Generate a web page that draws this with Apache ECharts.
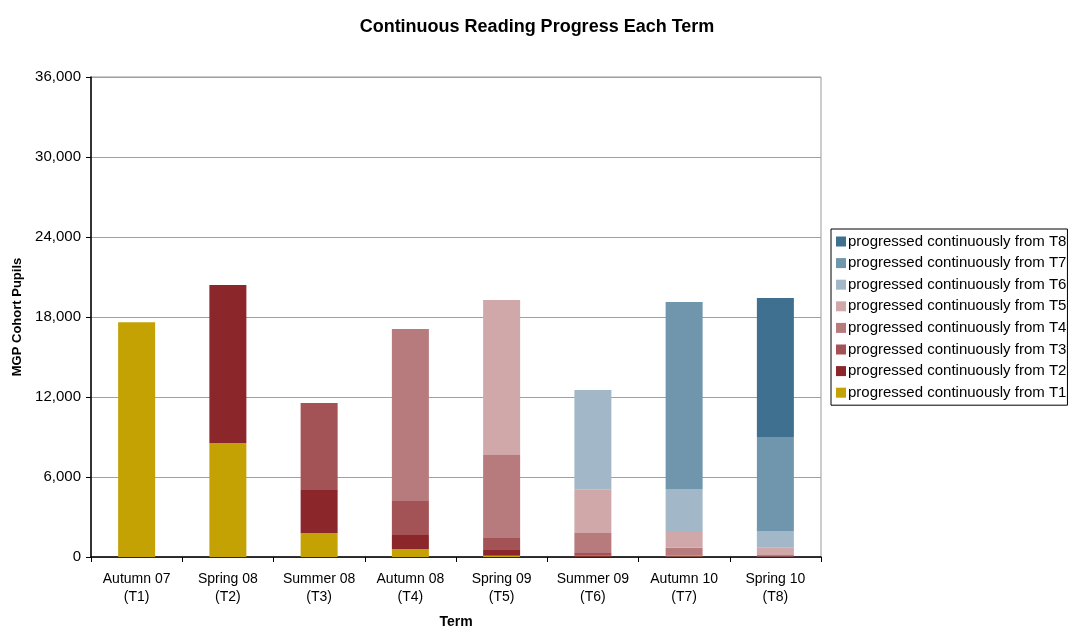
<!DOCTYPE html>
<html>
<head>
<meta charset="utf-8">
<script src="https://cdn.jsdelivr.net/npm/echarts@6/dist/echarts.min.js"></script>
<style>
  html, body { margin: 0; padding: 0; background: #fff; }
  #chart { width: 1070px; height: 627px; }
</style>
</head>
<body>
<div id="chart"></div>
<script>
const terms = ['Autumn 07\n(T1)', 'Spring 08\n(T2)', 'Summer 08\n(T3)', 'Autumn 08\n(T4)',
  'Spring 09\n(T5)', 'Summer 09\n(T6)', 'Autumn 10\n(T7)', 'Spring 10\n(T8)'];
const yTicks = [0, 6000, 12000, 18000, 24000, 30000, 36000];

// pupils progressing continuously from each start term, per term
const fromT1 = [17600, 8550, 1800, 600, 100, 20, 10, 5];
const fromT2 = [0, 11850, 3225, 1050, 425, 80, 30, 15];
const fromT3 = [0, 0, 6525, 2550, 900, 200, 60, 40];
const fromT4 = [0, 0, 0, 12900, 6225, 1500, 600, 90];
const fromT5 = [0, 0, 0, 0, 11625, 3275, 1175, 550];
const fromT6 = [0, 0, 0, 0, 0, 7450, 3225, 1250];
const fromT7 = [0, 0, 0, 0, 0, 0, 14025, 7050];
const fromT8 = [0, 0, 0, 0, 0, 0, 0, 10425];

const seriesData = [fromT1, fromT2, fromT3, fromT4, fromT5, fromT6, fromT7, fromT8];
const colors = ['#C4A204', '#8B262B', '#A35256', '#B77B7D', '#D1A8A9', '#A2B8C8', '#7096AE', '#3F7090'];
const names = seriesData.map((d, i) => 'progressed continuously from T' + (i + 1));

const chart = echarts.init(document.getElementById('chart'));
const font = 'Liberation Sans, Arial, sans-serif';

chart.setOption({
  animation: false,
  textStyle: { fontFamily: font },
  title: {
    text: 'Continuous Reading Progress Each Term',
    left: 532,
    textAlign: 'center',
    top: 13,
    textStyle: { fontSize: 18, fontWeight: 'bold', color: '#000', fontFamily: font }
  },
  grid: {
    left: 91, right: 249, top: 77, bottom: 70,
    outerBoundsMode: 'none',
    show: true, borderColor: '#999', borderWidth: 1
  },
  legend: {
    orient: 'vertical',
    left: 831,
    top: 229,
    data: names.slice().reverse(),
    itemWidth: 10,
    itemHeight: 10,
    itemGap: 6.6,
    padding: [5, 1, 5, 5],
    borderColor: '#000',
    borderWidth: 1,
    icon: 'rect',
    textStyle: { fontSize: 15, color: '#000', fontFamily: font, padding: [0, 0, 0, -3] }
  },
  xAxis: {
    type: 'category',
    data: terms,
    name: 'Term',
    nameLocation: 'middle',
    nameGap: 58,
    nameTextStyle: { fontSize: 14, fontWeight: 'bold', color: '#000' },
    axisLine: { lineStyle: { color: '#000', width: 1.5 } },
    axisTick: { show: true, length: 5, lineStyle: { color: '#000' } },
    axisLabel: { interval: 0, fontSize: 14, color: '#000', lineHeight: 18, margin: 13 }
  },
  yAxis: {
    type: 'value',
    min: 0,
    max: 36000,
    interval: 6000,
    name: 'MGP Cohort Pupils',
    nameLocation: 'middle',
    nameGap: 64,
    nameTextStyle: { fontSize: 13, fontWeight: 'bold', color: '#000' },
    axisLine: { show: true, lineStyle: { color: '#000', width: 1.5 } },
    axisTick: { show: true, length: 5, lineStyle: { color: '#000' } },
    axisLabel: {
      fontSize: 15, color: '#000', margin: 10,
      formatter: v => yTicks.includes(v) ? v.toLocaleString('en-US') : ''
    },
    splitLine: { lineStyle: { color: '#a0a0a0', width: 1 } }
  },
  series: seriesData.map((d, i) => ({
    name: names[i],
    type: 'bar',
    stack: 'total',
    data: d,
    barWidth: 37,
    itemStyle: { color: colors[i] }
  }))
});
</script>
</body>
</html>
